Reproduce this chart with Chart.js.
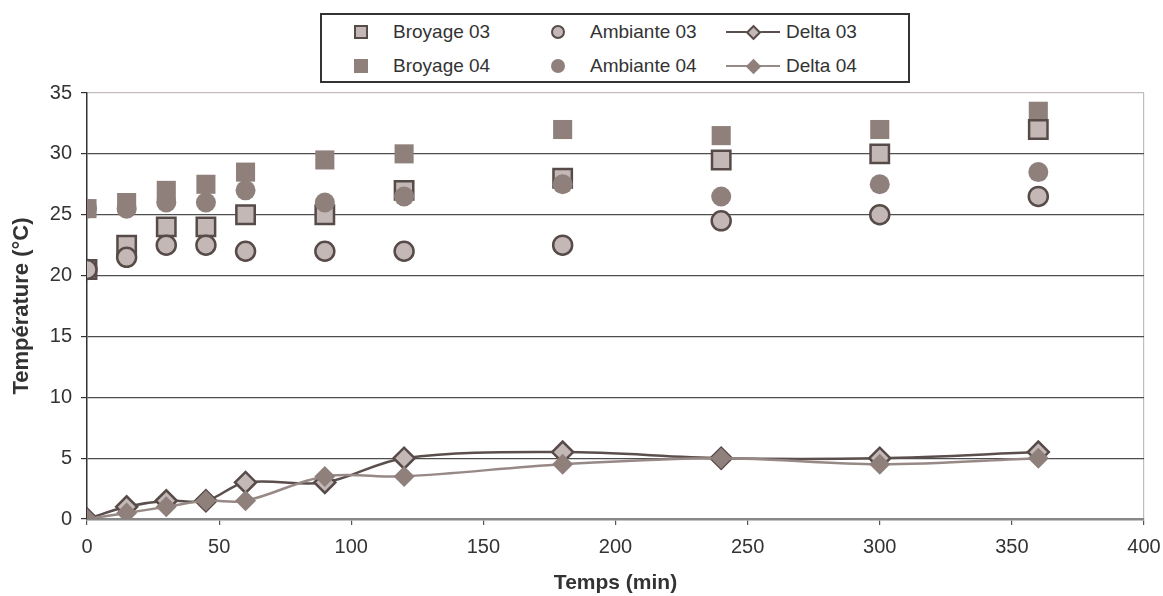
<!DOCTYPE html>
<html>
<head>
<meta charset="utf-8">
<script src="https://cdn.jsdelivr.net/npm/chart.js@4"></script>
<style>
  html, body { margin: 0; padding: 0; background: #fff; }
  #wrap { position: relative; width: 1163px; height: 596px; }
  #c { position: absolute; left: 0; top: 0; }
  #legend { position: absolute; left: 320px; top: 13px; width: 586px; height: 66px; border: 2px solid #333; background: #fff;
            font-family: "Liberation Sans", Arial, sans-serif; font-size: 19px; color: #333; }
  .txt { position: absolute; white-space: nowrap; line-height: 22px; }
  .sq { position: absolute; width: 14px; height: 14px; box-sizing: border-box; }
  .ci { position: absolute; width: 14px; height: 14px; border-radius: 50%; box-sizing: border-box; }
  .ln { position: absolute; height: 2.5px; width: 54px; }
  .di { position: absolute; width: 11px; height: 11px; transform: rotate(45deg); box-sizing: border-box; }
</style>
</head>
<body>
<div id="wrap">
  <canvas id="c" width="1163" height="596"></canvas>
  <div id="legend"></div>
</div>
<script>
// ---- data ----
const times = [0, 15, 30, 45, 60, 90, 120, 180, 240, 300, 360];
const broyage03 = [20.5, 22.5, 24, 24, 25, 25, 27, 28, 29.5, 30, 32];
const broyage04 = [25.5, 26, 27, 27.5, 28.5, 29.5, 30, 32, 31.5, 32, 33.5];
const ambiante03 = [20.5, 21.5, 22.5, 22.5, 22, 22, 22, 22.5, 24.5, 25, 26.5];
const ambiante04 = [25.5, 25.5, 26, 26, 27, 26, 26.5, 27.5, 26.5, 27.5, 28.5];
const delta03 = [0, 1, 1.5, 1.5, 3, 3, 5, 5.5, 5, 5, 5.5];
const delta04 = [0, 0.5, 1, 1.5, 1.5, 3.5, 3.5, 4.5, 5, 4.5, 5];
const xTicks = [0, 50, 100, 150, 200, 250, 300, 350, 400];
const yTicks = [0, 5, 10, 15, 20, 25, 30, 35];
const seriesNames = ['Broyage 03', 'Ambiante 03', 'Delta 03', 'Broyage 04', 'Ambiante 04', 'Delta 04'];
const xTitle = 'Temps (min)';
const yTitle = 'Température (°C)';

// ---- styles ----
const LIGHT = '#c3b8b5';
const DARK = '#574b49';
const SOLID = '#8f807c';
const LINE03 = '#5b4f4d';
const LINE04 = '#978985';
const FONT = '"Liberation Sans", Arial, sans-serif';

const pts = arr => times.map((t, i) => ({ x: t, y: arr[i] }));

// first in array is drawn on top
const datasets = [
  { label: seriesNames[5], data: pts(delta04), showLine: true, borderColor: LINE04, borderWidth: 2.5, tension: 0.35,
    pointStyle: 'rectRot', pointRadius: 10.5, pointBackgroundColor: SOLID, pointBorderColor: SOLID, pointBorderWidth: 0 },
  { label: seriesNames[2], data: pts(delta03), showLine: true, borderColor: LINE03, borderWidth: 2.5, tension: 0.35,
    pointStyle: 'rectRot', pointRadius: 10.5, pointBackgroundColor: LIGHT, pointBorderColor: DARK, pointBorderWidth: 2.5 },
  { label: seriesNames[1], data: pts(ambiante03), showLine: false,
    pointStyle: 'circle', pointRadius: 9.5, pointBackgroundColor: LIGHT, pointBorderColor: DARK, pointBorderWidth: 2.5 },
  { label: seriesNames[4], data: pts(ambiante04), showLine: false,
    pointStyle: 'circle', pointRadius: 10, pointBackgroundColor: SOLID, pointBorderColor: SOLID, pointBorderWidth: 0 },
  { label: seriesNames[0], data: pts(broyage03), showLine: false,
    pointStyle: 'rect', pointRadius: 13, pointBackgroundColor: LIGHT, pointBorderColor: DARK, pointBorderWidth: 2.5 },
  { label: seriesNames[3], data: pts(broyage04), showLine: false,
    pointStyle: 'rect', pointRadius: 13.5, pointBackgroundColor: SOLID, pointBorderColor: SOLID, pointBorderWidth: 0 }
];

new Chart(document.getElementById('c'), {
  type: 'scatter',
  data: { datasets },
  options: {
    responsive: false,
    devicePixelRatio: 1,
    animation: false,
    events: [],
    layout: { padding: { top: 93, right: 19, bottom: 0, left: 0 } },
    plugins: { legend: { display: false }, tooltip: { enabled: false } },
    scales: {
      x: {
        type: 'linear', min: 0, max: 400,
        afterBuildTicks: s => { s.ticks = xTicks.map(v => ({ value: v })); },
        afterFit: s => { s.height = 77; s.paddingRight = 0; s.paddingLeft = 0; },
        ticks: { color: '#333', font: { family: FONT, size: 20 }, padding: 10, maxRotation: 0 },
        grid: { drawOnChartArea: true, color: c => (c.tick && c.tick.value === 400) ? '#c4bcbb' : 'rgba(0,0,0,0)',
                tickColor: '#555', tickLength: 6, lineWidth: 1.2 },
        border: { color: '#888', width: 2.5 },
        title: { display: true, text: xTitle, color: '#333', font: { family: FONT, size: 21, weight: 'bold' },
                 padding: { top: 0, bottom: 0 } }
      },
      y: {
        type: 'linear', min: 0, max: 35,
        afterBuildTicks: s => { s.ticks = yTicks.map(v => ({ value: v })); },
        afterFit: s => { s.width = 87; s.paddingTop = 0; s.paddingBottom = 0; },
        ticks: { color: '#333', font: { family: FONT, size: 20 }, padding: 9 },
        grid: { color: c => (c.tick && c.tick.value === 35) ? '#c4bcbb' : (c.tick && c.tick.value === 0 ? 'rgba(0,0,0,0)' : '#4e4e4e'),
                tickColor: '#333', tickLength: 6, lineWidth: 1.2 },
        border: { color: '#333', width: 1.5 },
        title: { display: true, text: yTitle, color: '#333', font: { family: FONT, size: 22, weight: 'bold' },
                 padding: { top: 9, bottom: 0 } }
      }
    }
  }
});

// ---- HTML legend (3 columns x 2 rows) ----
const legend = document.getElementById('legend');
const cols = [32, 229, 404];   // marker left offsets in legend box
const txtCols = [71, 268, 464];
const rows = [17, 51];
const markerKinds = ['sq', 'ci', 'ln', 'sq', 'ci', 'ln'];
seriesNames.forEach((name, i) => {
  const col = i % 3, row = Math.floor(i / 3);
  const is03 = row === 0;
  const cy = rows[row];
  const kind = markerKinds[i];
  const m = document.createElement('div');
  if (kind === 'sq') {
    m.className = 'sq';
    m.style.left = cols[col] + 'px'; m.style.top = (cy - 7) + 'px';
    m.style.background = is03 ? LIGHT : SOLID;
    m.style.border = is03 ? '2.5px solid ' + DARK : 'none';
    legend.appendChild(m);
  } else if (kind === 'ci') {
    m.className = 'ci';
    m.style.left = cols[col] + 'px'; m.style.top = (cy - 7) + 'px';
    m.style.background = is03 ? LIGHT : SOLID;
    m.style.border = is03 ? '2.5px solid ' + DARK : 'none';
    legend.appendChild(m);
  } else {
    m.className = 'ln';
    m.style.left = cols[col] + 'px'; m.style.top = (cy - 1.25) + 'px';
    m.style.background = is03 ? LINE03 : LINE04;
    legend.appendChild(m);
    const d = document.createElement('div');
    d.className = 'di';
    d.style.left = (cols[col] + 21.5) + 'px'; d.style.top = (cy - 5.5) + 'px';
    d.style.background = is03 ? LIGHT : SOLID;
    d.style.border = is03 ? '2px solid ' + DARK : 'none';
    legend.appendChild(d);
  }
  const t = document.createElement('div');
  t.className = 'txt';
  t.textContent = name;
  t.style.left = txtCols[col] + 'px';
  t.style.top = (cy - 11) + 'px';
  legend.appendChild(t);
});
</script>
</body>
</html>
